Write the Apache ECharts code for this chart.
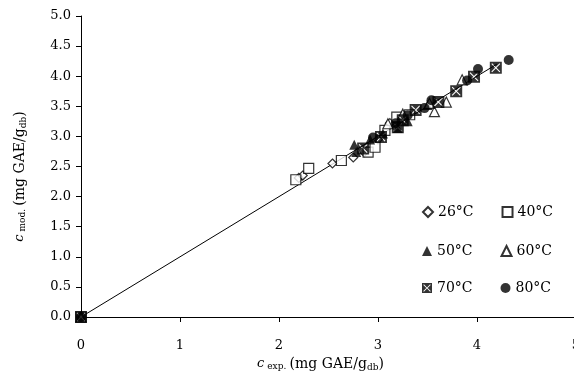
<!DOCTYPE html>
<html>
<head>
<meta charset="utf-8">
<script src="https://cdn.jsdelivr.net/npm/echarts@6/dist/echarts.min.js"></script>
<style>html,body{margin:0;padding:0;background:#fff}#c{width:574px;height:378px}</style>
</head>
<body>
<div id="c"></div>
<script>
// Series names
const seriesNames = ['26°C', '40°C', '50°C', '60°C', '70°C', '80°C'];
// Axis ticks
const xTicks = [0, 1, 2, 3, 4, 5];
const yTicks = [0, 0.5, 1, 1.5, 2, 2.5, 3, 3.5, 4, 4.5, 5];
// Data: [c_exp, c_mod]
const d26 = [[0,0],[2.20,2.31],[2.24,2.35],[2.54,2.55],[2.75,2.65],[2.86,2.74],[3.00,2.95],[3.12,3.22],[3.24,3.32]];
const d40 = [[0,0],[2.17,2.28],[2.30,2.47],[2.63,2.60],[2.90,2.74],[2.97,2.82],[3.07,3.10],[3.19,3.32],[3.32,3.36]];
const d50 = [[0,0],[2.76,2.86],[2.78,2.74],[2.92,2.95],[3.05,3.05],[3.20,3.14],[3.30,3.25],[3.50,3.52]];
const d60 = [[0,0],[3.10,3.21],[3.25,3.37],[3.57,3.41],[3.69,3.57],[3.85,3.94],[3.52,3.55]];
const d70 = [[0,0],[2.85,2.80],[3.03,2.99],[3.20,3.15],[3.25,3.27],[3.38,3.44],[3.61,3.57],[3.79,3.75],[3.97,3.99],[4.19,4.14]];
const d80 = [[0,0],[2.95,2.98],[3.18,3.22],[3.30,3.35],[3.47,3.47],[3.54,3.60],[3.90,3.93],[4.01,4.12],[4.32,4.27]];
// Reference line y = x
const refLine = [[0,0],[4.2,4.2]];

const FONT = 'DejaVu Serif';
// black square with a thin white X carved out (hole drawn with opposite winding)
const xSquare = 'path://M0,0L10,0L10,10L0,10Z' +
  'M1.9,1.3L1.3,1.9L4.4,5L1.3,8.1L1.9,8.7L5,5.6L8.1,8.7L8.7,8.1L5.6,5L8.7,1.9L8.1,1.3L5,4.4Z';

function scatter(name, data, symbol, size, filled) {
  return {
    name, type: 'scatter', data, symbol, symbolSize: size, clip: false,
    itemStyle: filled ? { color: '#000', borderColor: '#000', borderWidth: 0 }
                      : { color: '#fff', borderColor: '#000', borderWidth: 1.2 },
    emphasis: { disabled: true }
  };
}

const chart = echarts.init(document.getElementById('c'), null, { renderer: 'canvas' });
const legendCommon = {
  itemWidth: 10, itemHeight: 10, itemGap: 28,
  textStyle: { fontFamily: FONT, fontSize: 14, color: '#000' },
  selectedMode: false
};
chart.setOption({
  animation: false,
  backgroundColor: '#fff',
  grid: { left: 81, top: 16, width: 495, height: 301, outerBoundsMode: 'none', containLabel: false },
  legend: [
    Object.assign({ left: 417, top: 200, data: [seriesNames[0], seriesNames[1]] }, legendCommon),
    Object.assign({ left: 417, top: 239, data: [seriesNames[2], seriesNames[3]] }, legendCommon),
    Object.assign({ left: 417, top: 276, data: [seriesNames[4], seriesNames[5]] }, legendCommon)
  ],
  xAxis: {
    type: 'value', min: xTicks[0], max: xTicks[xTicks.length - 1], interval: 1,
    axisLine: { lineStyle: { color: '#000', width: 1 } },
    axisTick: { length: 5, lineStyle: { color: '#000' } },
    axisLabel: { margin: 22, fontFamily: FONT, fontSize: 13, color: '#000' },
    splitLine: { show: false },
    name: '{i|c}{s| exp.} {n|(mg GAE/g}{sub|db}{n|)}',
    nameLocation: 'middle', nameGap: 33,
    nameTextStyle: {
      padding: [0, 16, 0, 0],
      rich: {
        i: { fontFamily: FONT, fontSize: 13, fontStyle: 'italic', color: '#000' },
        s: { fontFamily: FONT, fontSize: 9, color: '#000', padding: [5, 0, 0, 0] },
        n: { fontFamily: FONT, fontSize: 14, color: '#000' },
        sub: { fontFamily: FONT, fontSize: 9, color: '#000', padding: [7, 0, 0, 0] }
      }
    }
  },
  yAxis: {
    type: 'value', min: yTicks[0], max: yTicks[yTicks.length - 1], interval: 0.5,
    axisLine: { show: true, lineStyle: { color: '#000', width: 1 } },
    axisTick: { show: true, length: 5, lineStyle: { color: '#000' } },
    axisLabel: { margin: 10, fontFamily: FONT, fontSize: 13, color: '#000',
      formatter: v => v.toFixed(1) },
    splitLine: { show: false },
    name: '{i|c}{s| mod.} {n|(mg GAE/g}{sub|db}{n|)}',
    nameLocation: 'middle', nameGap: 53, nameRotate: 90,
    nameTextStyle: {
      padding: [0, 20, 0, 0],
      rich: {
        i: { fontFamily: FONT, fontSize: 13, fontStyle: 'italic', color: '#000' },
        s: { fontFamily: FONT, fontSize: 9, color: '#000', padding: [5, 0, 0, 0] },
        n: { fontFamily: FONT, fontSize: 14, color: '#000' },
        sub: { fontFamily: FONT, fontSize: 9, color: '#000', padding: [7, 0, 0, 0] }
      }
    }
  },
  series: [
    { name: 'ref', type: 'line', data: refLine, showSymbol: false, symbol: 'none',
      lineStyle: { color: '#000', width: 1 }, z: 1, silent: true },
    scatter(seriesNames[0], d26, 'diamond', 9, false),
    scatter(seriesNames[1], d40, 'rect', 10, false),
    scatter(seriesNames[2], d50, 'triangle', 10, true),
    scatter(seriesNames[3], d60, 'triangle', 10, false),
    scatter(seriesNames[5], d80, 'circle', 10, true),
    scatter(seriesNames[4], d70, xSquare, 12, true)
  ]
});
</script>
</body>
</html>
